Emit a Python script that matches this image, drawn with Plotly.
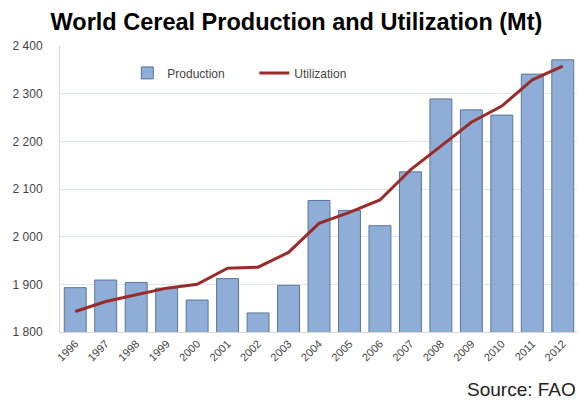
import plotly.graph_objects as go

years = [str(y) for y in range(1996, 2013)]
production = [1893, 1909, 1904, 1892, 1867, 1912, 1840, 1898, 2076, 2055, 2023,
              2136, 2289, 2266, 2255, 2341, 2371]
utilization = [1843, 1864, 1878, 1892, 1900, 1934, 1936, 1967, 2028, 2051, 2077,
               2140, 2190, 2240, 2274, 2329, 2358]
y_ticks = [1800, 1900, 2000, 2100, 2200, 2300, 2400]

fig = go.Figure()
fig.add_trace(go.Bar(
    x=years, y=production, name="Production",
    marker=dict(color="#8eaed8", line=dict(color="#5d7596", width=1)),
    width=0.72,
))
fig.add_trace(go.Scatter(
    x=years, y=utilization, name="Utilization", mode="lines",
    line=dict(color="#9a2b2b", width=3),
))

fig.update_layout(
    width=579, height=400,
    margin=dict(l=60, r=1, t=46, b=68, autoexpand=False),
    paper_bgcolor="white", plot_bgcolor="white",
    separators=". ",
    font=dict(family="Liberation Sans, Arial, sans-serif", color="#444"),
    title=dict(text="<b>World Cereal Production and Utilization (Mt)</b>",
               x=0.512, xanchor="center", y=0.965, yanchor="top",
               font=dict(size=23.5, color="black")),
    showlegend=True,
    legend=dict(orientation="h", x=0.13, y=0.906, xanchor="left", yanchor="middle",
                font=dict(size=12, color="#444"), bgcolor="rgba(0,0,0,0)",
                entrywidth=82, tracegroupgap=0),
    bargap=0.28,
    xaxis=dict(tickangle=-45, tickfont=dict(size=11, color="#444"),
               showline=True, linecolor="#d8d8d8", ticks="", showgrid=False,
               automargin=False),
    yaxis=dict(range=[1800, 2400], tickvals=y_ticks, tickformat=",d",
               tickfont=dict(size=12, color="#444"),
               showgrid=True, gridcolor="#dfe4f0", gridwidth=1,
               showline=True, linecolor="#d8d8d8", zeroline=False, ticks="",
               ticklabelstandoff=14, automargin=False),
)
fig.add_annotation(text="Source: FAO", xref="paper", yref="paper",
                   x=1.0, y=-0.2, xanchor="right", yanchor="middle",
                   showarrow=False, font=dict(size=19, color="#222"))

fig.write_html("out.html", config={"displayModeBar": False},
               post_script="document.body.style.margin='0';")
